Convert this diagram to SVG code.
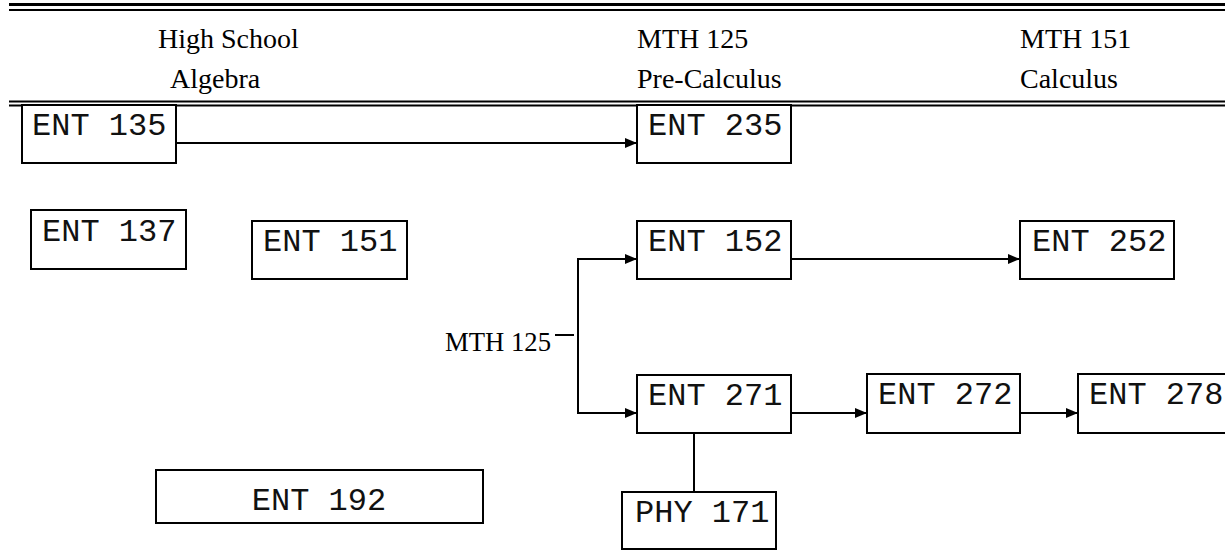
<svg xmlns="http://www.w3.org/2000/svg" width="1225" height="550" viewBox="0 0 1225 550">
<style>
.box{fill:#fff;stroke:#000;stroke-width:2}
.lbl{font-family:"Liberation Mono","Courier New",monospace;font-size:32px;fill:#111}
.hdr{font-family:"Liberation Serif","Times New Roman",serif;font-size:28px;fill:#000}
.ln{stroke:#000;stroke-width:2;fill:none}
.rule{stroke:#000;fill:none}
</style>
<defs>
<marker id="ah" markerUnits="userSpaceOnUse" markerWidth="12" markerHeight="10" refX="12" refY="5" orient="auto">
<path d="M0,0 L12,5 L0,10 Z" fill="#000"/>
</marker>
</defs>
<rect width="1225" height="550" fill="#fff"/>
<g id="header">
<line class="rule" x1="9" y1="4.5" x2="1225" y2="4.5" stroke-width="3"/>
<line class="rule" x1="9" y1="10" x2="1225" y2="10" stroke-width="2"/>
<text class="hdr" x="158" y="48">High School</text>
<text class="hdr" x="170" y="88">Algebra</text>
<text class="hdr" x="637" y="48">MTH 125</text>
<text class="hdr" x="637" y="88">Pre-Calculus</text>
<text class="hdr" x="1020" y="48">MTH 151</text>
<text class="hdr" x="1020" y="88">Calculus</text>
<line class="rule" x1="9" y1="101.5" x2="1225" y2="101.5" stroke-width="2"/>
<line class="rule" x1="9" y1="105.5" x2="1225" y2="105.5" stroke-width="2"/>
</g>
<g id="connectors">
<line class="ln" x1="176" y1="143" x2="637" y2="143" marker-end="url(#ah)"/>
<line class="ln" x1="791" y1="259" x2="1020" y2="259" marker-end="url(#ah)"/>
<line class="ln" x1="555" y1="335" x2="574" y2="335"/>
<polyline class="ln" points="637,259 578,259 578,413 637,413" marker-end="url(#ah)"/>
<line class="ln" x1="578" y1="259" x2="637" y2="259" marker-end="url(#ah)"/>
<line class="ln" x1="791" y1="413" x2="867" y2="413" marker-end="url(#ah)"/>
<line class="ln" x1="1020" y1="413" x2="1078" y2="413" marker-end="url(#ah)"/>
<line class="ln" x1="694" y1="433" x2="694" y2="491"/>
<text class="hdr" x="445" y="351" style="font-size:26.7px">MTH 125</text>
</g>
<g id="ENT135"><rect class="box" x="22" y="105" width="154" height="58"/><text class="lbl" x="32" y="135">ENT 135</text></g>
<g id="ENT235"><rect class="box" x="637" y="105" width="154" height="58"/><text class="lbl" x="648" y="135">ENT 235</text></g>
<g id="ENT137"><rect class="box" x="31" y="210" width="155" height="59"/><text class="lbl" x="42" y="241">ENT 137</text></g>
<g id="ENT151"><rect class="box" x="252" y="221" width="155" height="58"/><text class="lbl" x="263" y="251">ENT 151</text></g>
<g id="ENT152"><rect class="box" x="637" y="221" width="154" height="58"/><text class="lbl" x="648" y="251">ENT 152</text></g>
<g id="ENT252"><rect class="box" x="1020" y="221" width="154" height="58"/><text class="lbl" x="1032" y="251">ENT 252</text></g>
<g id="ENT271"><rect class="box" x="637" y="375" width="154" height="58"/><text class="lbl" x="648" y="405">ENT 271</text></g>
<g id="ENT272"><rect class="box" x="867" y="374" width="153" height="59"/><text class="lbl" x="878" y="404">ENT 272</text></g>
<g id="ENT278"><rect class="box" x="1078" y="374" width="155" height="59"/><text class="lbl" x="1089" y="404">ENT 278</text></g>
<g id="ENT192"><rect class="box" x="156" y="470" width="327" height="53"/><text class="lbl" x="319" y="510" text-anchor="middle">ENT 192</text></g>
<g id="PHY171"><rect class="box" x="622" y="492" width="154" height="57"/><text class="lbl" x="635" y="522">PHY 171</text></g>
</svg>
